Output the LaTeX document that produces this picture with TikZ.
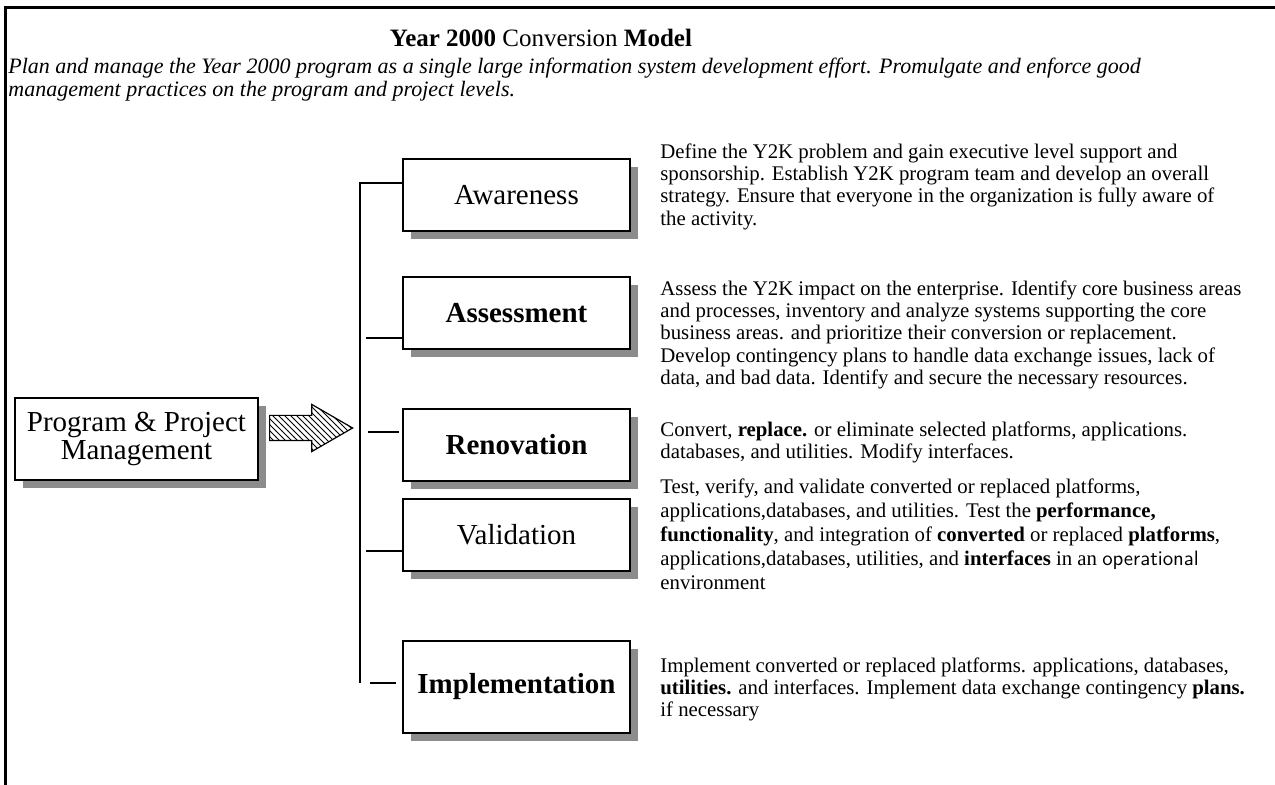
\documentclass[tikz,border=0pt]{standalone}
\usepackage{fontspec}
\setmainfont{Liberation Serif}
\usepackage{tikz}
\usetikzlibrary{positioning,shapes.arrows,shadows,patterns}
\tikzset{
  stagebox/.style={
    draw=black, line width=0.6pt, fill=white, align=center,
    minimum width=113.5pt, minimum height=36pt, inner sep=2pt,
    font=\fontsize{14.5}{16.5}\selectfont,
    drop shadow={shadow xshift=4pt, shadow yshift=-4pt, opacity=1, fill=black!45}
  },
  desc/.style={anchor=north west, align=left, inner sep=0pt, font=\fontsize{10.4}{11.2}\selectfont},
  branch/.style={draw=black, line width=0.6pt},
  blockarrow/.style={
    single arrow, draw=black, line width=0.6pt, pattern=north west lines,
    minimum height=41.5pt, single arrow head extend=5.5pt,
    single arrow tip angle=60, inner xsep=0pt, inner ysep=6pt
  },
  frame/.style={draw=black, line width=1.5pt}
}

\begin{document}
\begin{tikzpicture}[x=0.5pt, y=-0.5pt]
  \useasboundingbox (0,0) rectangle (1275,785);
  \draw[frame] (5,785) -- (5,8) -- (1275,8);

  \node[font=\fontsize{12.5}{14}\selectfont] (title) at (541,38)
    {\textbf{Year 2000} Conversion \textbf{Model}};
  \node[anchor=north west, align=left, inner sep=0pt, font=\fontsize{11}{11.5}\selectfont\itshape] (intro) at (8,58)
    {Plan and manage the Year 2000 program as a single large information system development effort. Promulgate and enforce good\\
     management practices on the program and project levels.};

  % boxes
  \node[stagebox, minimum width=121.5pt, minimum height=41pt, font=\fontsize{14.5}{14}\selectfont] (prog) at (136.5,439) {Program \& Project\\Management};
  \node[stagebox] (aware) at (516.5,195) {Awareness};
  \node[stagebox] (assess) at (516.5,313) {\textbf{Assessment}};
  \node[stagebox] (renov) at (516.5,445) {\textbf{Renovation}};
  \node[stagebox] (valid) at (516.5,535) {Validation};
  \node[stagebox, minimum height=46pt] (implm) at (516.5,687) {\textbf{Implementation}};

  % arrow into the trunk
  \node[blockarrow, anchor=west] (arw) at (269,428) {};

  % trunk and branches
  \coordinate (ttop) at (360,183);
  \coordinate (tbot) at (360,683);
  \draw[branch] (ttop -| aware.west) -- (ttop) -- (tbot);
  \coordinate (b2) at (366,338);
  \coordinate (b3) at (368,432);
  \coordinate (b4) at (366,551);
  \coordinate (b5) at (370,683);
  \draw[branch] (b2) -- (b2 -| assess.west);
  \draw[branch] (b3) -- ([xshift=-1.5pt]b3 -| renov.west);
  \draw[branch] (b4) -- (b4 -| valid.west);
  \draw[branch] (b5) -- ([xshift=-3pt]b5 -| implm.west);

  % descriptions
  \node[desc] (awaretxt) at (660,143)
    {Define the Y2K problem and gain executive level support and\\
     sponsorship. Establish Y2K program team and develop an overall\\
     strategy. Ensure that everyone in the organization is fully aware of\\
     the activity.};
  \node[desc] (assesstxt) at (660,280)
    {Assess the Y2K impact on the enterprise. Identify core business areas\\
     and processes, inventory and analyze systems supporting the core\\
     business areas. and prioritize their conversion or replacement.\\
     Develop contingency plans to handle data exchange issues, lack of\\
     data, and bad data. Identify and secure the necessary resources.};
  \node[desc] (renovtxt) at (660,421)
    {Convert, \textbf{replace.} or eliminate selected platforms, applications.\\
     databases, and utilities. Modify interfaces.};
  \node[desc, font=\fontsize{10.4}{12}\selectfont] (validtxt) at (660,478)
    {Test, verify, and validate converted or replaced platforms,\\
     applications,databases, and utilities. Test the \textbf{performance,}\\
     \textbf{functionality}, and integration of \textbf{converted} or replaced \textbf{platforms},\\
     applications,databases, utilities, and \textbf{interfaces} in an \textsf{operational}\\
     environment};
  \node[desc] (implmtxt) at (660,657)
    {Implement converted or replaced platforms. applications, databases,\\
     \textbf{utilities.} and interfaces. Implement data exchange contingency \textbf{plans.}\\
     if necessary};
\end{tikzpicture}
\end{document}
